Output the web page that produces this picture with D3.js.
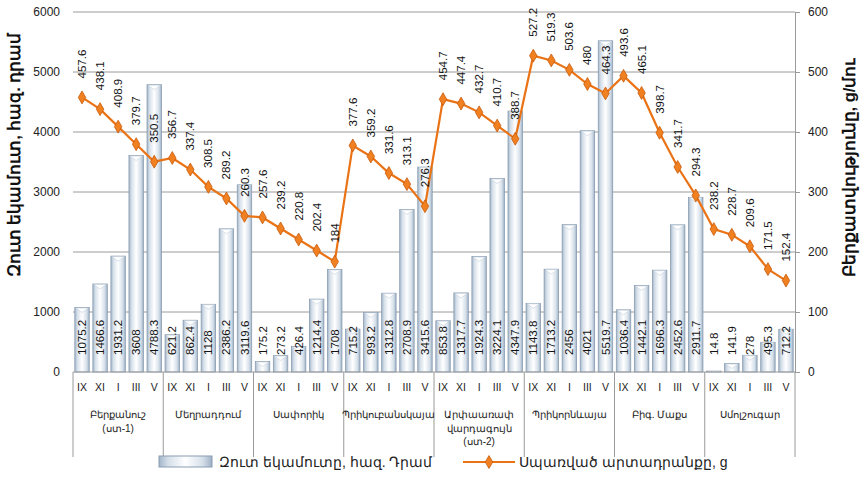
<!DOCTYPE html>
<html>
<head>
<meta charset="utf-8">
<script src="https://cdn.jsdelivr.net/npm/d3@7/dist/d3.min.js"></script>
<style>
  html, body { margin: 0; padding: 0; background: #fff; }
  svg { display: block; font-family: "Liberation Sans", Arial, sans-serif; }
</style>
</head>
<body>
<svg id="chart" width="864" height="495"></svg>
<script>
// Varieties (groups) and months within each group
const groups = [
  ["Բերքանուշ", "(ստ-1)"],
  ["Մեղրադդում"],
  ["Սափորիկ"],
  ["Պրիկուբանսկայա"],
  ["Արփաառափ", "վարդագույն", "(ստ-2)"],
  ["Պրիկորնևայա"],
  ["Բիգ. Մաքս"],
  ["Սմոլշուգար"]
];
const months = ["IX", "XI", "I", "III", "V"];

// Net income, thousand dram (bars, left axis)
const netIncome = [
  [1075.2, 1466.6, 1931.2, 3608, 4788.3],
  [621.2, 862.4, 1128, 2386.2, 3119.6],
  [175.2, 273.2, 426.4, 1214.4, 1708],
  [715.2, 993.2, 1312.8, 2708.9, 3415.6],
  [853.8, 1317.7, 1924.3, 3224.1, 4347.9],
  [1143.8, 1713.2, 2456, 4021, 5519.7],
  [1036.4, 1442.1, 1696.3, 2452.6, 2911.7],
  [14.8, 141.9, 278, 495.3, 712.2]
];

// Consumed product, g (line, right axis)
const consumed = [
  [457.6, 438.1, 408.9, 379.7, 350.5],
  [356.7, 337.4, 308.5, 289.2, 260.3],
  [257.6, 239.2, 220.8, 202.4, 184],
  [377.6, 359.2, 331.6, 313.1, 276.3],
  [454.7, 447.4, 432.7, 410.7, 388.7],
  [527.2, 519.3, 503.6, 480, 464.3],
  [493.6, 465.1, 398.7, 341.7, 294.3],
  [238.2, 228.7, 209.6, 171.5, 152.4]
];

const leftTicks = [0, 1000, 2000, 3000, 4000, 5000, 6000];
const rightTicks = [0, 100, 200, 300, 400, 500, 600];

const leftTitle = "Զուտ եկամուտ, հազ. դրամ";
const rightTitle = "Բերքատվությունը, g/մու";
const legendBar = "Զուտ եկամուտը, հազ. Դրամ";
const legendLine = "Սպառված արտադրանքը, g";

// Flatten into one row per bar
const rows = [];
groups.forEach((g, gi) => months.forEach((m, mi) => {
  rows.push({ key: gi + "-" + mi, gi, mi, month: m, income: netIncome[gi][mi], product: consumed[gi][mi] });
}));

const svg = d3.select("#chart");
const plot = { left: 73, right: 795, top: 12, bottom: 372 };

const x = d3.scaleBand().domain(rows.map(d => d.key))
  .range([plot.left, plot.right]).paddingInner(0.2).paddingOuter(0.1);
const yL = d3.scaleLinear().domain([0, 6000]).range([plot.bottom, plot.top]);
const yR = d3.scaleLinear().domain([0, 600]).range([plot.bottom, plot.top]);
const groupW = (plot.right - plot.left) / groups.length;

const defs = svg.append("defs");
const grad = defs.append("linearGradient").attr("id", "barGrad")
  .attr("x1", "0").attr("x2", "1").attr("y1", "0").attr("y2", "0");
[[0, "#a4b6c9"], [0.18, "#d6e0ea"], [0.5, "#ffffff"], [0.82, "#d6e0ea"], [1, "#9fb1c4"]]
  .forEach(([o, c]) => grad.append("stop").attr("offset", o).attr("stop-color", c));

// Gridlines
svg.append("g").selectAll("line").data(leftTicks.filter(t => t > 0)).join("line")
  .attr("x1", plot.left).attr("x2", plot.right)
  .attr("y1", d => yL(d)).attr("y2", d => yL(d))
  .attr("stroke", "#9a9a9a").attr("stroke-width", 1);

// Left axis labels
svg.append("g").attr("transform", `translate(${plot.left},0)`)
  .call(d3.axisLeft(yL).tickValues(leftTicks).tickSize(0).tickPadding(13).tickFormat(d3.format("d")))
  .call(g => g.select(".domain").remove())
  .call(g => g.selectAll("text").attr("font-size", 12).attr("fill", "#222")
    .attr("font-family", "Liberation Sans, Arial, sans-serif"));

// Right axis
svg.append("g").attr("transform", `translate(${plot.right},0)`)
  .call(d3.axisRight(yR).tickValues(rightTicks).tickSize(5).tickPadding(8).tickFormat(d3.format("d")))
  .call(g => g.select(".domain").attr("stroke", "#9a9a9a"))
  .call(g => g.selectAll(".tick line").attr("stroke", "#9a9a9a"))
  .call(g => g.selectAll("text").attr("font-size", 12).attr("fill", "#222")
    .attr("font-family", "Liberation Sans, Arial, sans-serif"));

// Bars
const bars = svg.append("g").selectAll("g").data(rows).join("g");
bars.append("rect")
  .attr("x", d => x(d.key)).attr("width", x.bandwidth())
  .attr("y", d => yL(d.income)).attr("height", d => plot.bottom - yL(d.income))
  .attr("fill", "url(#barGrad)").attr("stroke", "#8a9db2").attr("stroke-width", 0.8);
// Top face of each bar
bars.append("path")
  .attr("d", d => {
    const x0 = x(d.key), x1 = x0 + x.bandwidth(), y0 = yL(d.income);
    const h = Math.min(5, plot.bottom - y0);
    return `M${x0 + 1},${y0 + 0.5}L${x1 - 1},${y0 + 0.5}L${(x0 + x1) / 2},${y0 + h}Z`;
  })
  .attr("fill", "#ffffff").attr("stroke", "#c3cfdb").attr("stroke-width", 0.6);

// Bar value labels
bars.append("text")
  .attr("transform", d => `translate(${x(d.key) + x.bandwidth() / 2},${plot.bottom - 17}) rotate(-90)`)
  .attr("dy", "0.35em").attr("font-size", 11.5).attr("fill", "#111")
  .text(d => d.income);

// Bottom axis line
svg.append("line").attr("x1", plot.left).attr("x2", plot.right)
  .attr("y1", plot.bottom).attr("y2", plot.bottom).attr("stroke", "#9a9a9a");

// Group separators
svg.append("g").selectAll("line").data(d3.range(groups.length + 1)).join("line")
  .attr("x1", i => plot.left + i * groupW).attr("x2", i => plot.left + i * groupW)
  .attr("y1", plot.bottom).attr("y2", 457).attr("stroke", "#9a9a9a");

// Month labels
svg.append("g").selectAll("text").data(rows).join("text")
  .attr("x", d => x(d.key) + x.bandwidth() / 2).attr("y", 391)
  .attr("text-anchor", "middle").attr("font-size", 10.5).attr("fill", "#222")
  .text(d => d.month);

// Group labels
svg.append("g").selectAll("text").data(groups).join("text")
  .attr("x", (g, i) => plot.left + (i + 0.5) * groupW).attr("y", 418)
  .attr("text-anchor", "middle").attr("font-size", 10).attr("fill", "#222")
  .selectAll("tspan").data(g => g).join("tspan")
  .attr("x", function () { return d3.select(this.parentNode).attr("x"); })
  .attr("dy", (t, j) => j === 0 ? 0 : 13.5)
  .text(t => t);

// Consumed product line, one segment chain across all groups
const lineColor = "#ea7316";
svg.append("path").datum(rows)
  .attr("fill", "none").attr("stroke", lineColor).attr("stroke-width", 2.2)
  .attr("d", d3.line().x(d => x(d.key) + x.bandwidth() / 2).y(d => yR(d.product)));

const diamond = d3.symbol().type(d3.symbolDiamond).size(48);
svg.append("g").selectAll("path").data(rows).join("path")
  .attr("transform", d => `translate(${x(d.key) + x.bandwidth() / 2},${yR(d.product)})`)
  .attr("d", diamond).attr("fill", "#f08020").attr("stroke", "#c85a0c").attr("stroke-width", 0.8);

// Line value labels
svg.append("g").selectAll("text").data(rows).join("text")
  .attr("transform", d => `translate(${x(d.key) + x.bandwidth() / 2},${yR(d.product) - 19}) rotate(-90)`)
  .attr("dy", "0.35em").attr("font-size", 11.5).attr("fill", "#111")
  .text(d => d.product);

// Axis titles
svg.append("text")
  .attr("transform", `translate(14,${155}) rotate(-90)`)
  .attr("text-anchor", "middle").attr("dy", "0.35em")
  .attr("font-size", 16.5).attr("font-weight", "bold").attr("fill", "#111")
  .text(leftTitle);
svg.append("text")
  .attr("transform", `translate(849,${168}) rotate(-90)`)
  .attr("text-anchor", "middle").attr("dy", "0.35em")
  .attr("font-size", 16.5).attr("font-weight", "bold").attr("fill", "#111")
  .text(rightTitle);

// Legend
const lg = svg.append("g");
lg.append("rect").attr("x", 159).attr("y", 456).attr("width", 53).attr("height", 11)
  .attr("fill", "url(#barGrad)").attr("stroke", "#8a9db2");
lg.append("text").attr("x", 219).attr("y", 462).attr("dy", "0.35em")
  .attr("font-size", 14).attr("fill", "#222").text(legendBar);
lg.append("line").attr("x1", 463).attr("x2", 515).attr("y1", 462).attr("y2", 462)
  .attr("stroke", lineColor).attr("stroke-width", 2.2);
lg.append("path").attr("transform", "translate(489,462)").attr("d", diamond)
  .attr("fill", "#f08020").attr("stroke", "#c85a0c").attr("stroke-width", 0.8);
lg.append("text").attr("x", 519).attr("y", 462).attr("dy", "0.35em")
  .attr("font-size", 14).attr("fill", "#222").text(legendLine);
</script>
</body>
</html>
